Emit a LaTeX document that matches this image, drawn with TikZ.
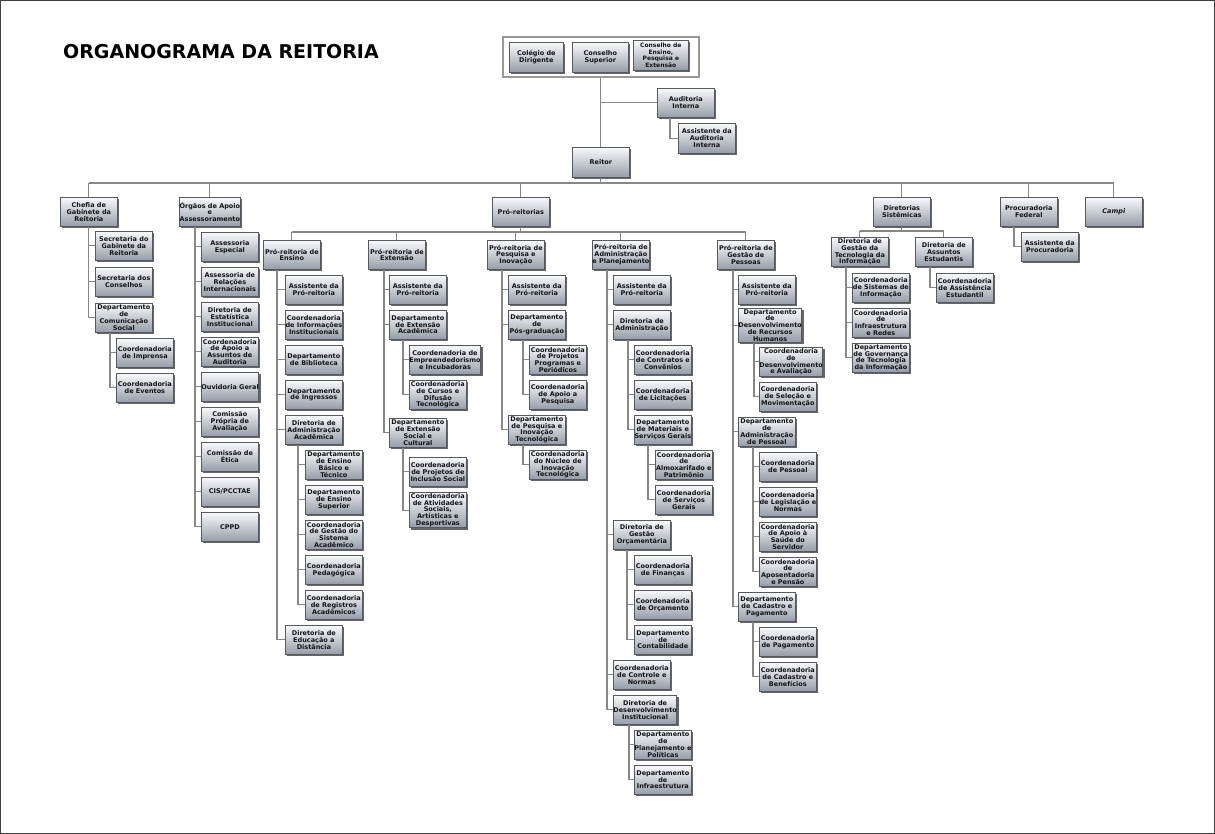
\documentclass[tikz,border=0pt]{standalone}
\usepackage{fontspec}
\setmainfont{DejaVu Sans}
\usetikzlibrary{shadows,calc}
\definecolor{boxtop}{RGB}{248,249,251}
\definecolor{boxbot}{RGB}{150,157,168}
\definecolor{boxline}{RGB}{85,89,97}
\definecolor{conline}{RGB}{135,135,135}
\definecolor{txt}{RGB}{20,20,24}
\newcommand\obox[5][]{\node[box,#1] (#2) at (#3,#4) {#5};}
\newcommand\conn[3]{\draw[ln] ([xshift=#2pt]#1.south west) |- (#3.west);}
\begin{document}
\begin{tikzpicture}[x=1pt,y=-1pt,
  box/.style={draw=boxline, line width=0.7pt, top color=boxtop, bottom color=boxbot,
    minimum width=57pt, minimum height=29pt, inner xsep=0pt, inner ysep=1pt,
    align=center, anchor=north west, text=txt,
    font=\bfseries\fontsize{6.5}{6.8}\selectfont,
    drop shadow={shadow xshift=2pt, shadow yshift=-2pt, fill=black!75, opacity=0.8}},
  ln/.style={draw=conline, line width=1.1pt}]
\useasboundingbox (0,0) rectangle (1215,834);
\fill[white] (0,0) rectangle (1215,834);
\draw[black!75, line width=0.8pt] (0.6,0.6) rectangle (1214.4,833.4);

% title
\node[anchor=base west, inner sep=0pt, font=\bfseries\fontsize{19}{21}\selectfont] (title) at (63,59) {ORGANOGRAMA DA REITORIA};

% top councils
\node[draw=black!40, line width=1.6pt, fill=white, minimum width=196pt, minimum height=40pt, anchor=north west, inner sep=0pt] (conselhos) at (502,36) {};
\obox[minimum width=54pt, minimum height=30pt]{colegio}{509}{42}{Colégio de\\Dirigente}
\obox[minimum width=56pt, minimum height=30pt]{consup}{572}{42}{Conselho\\Superior}
\obox[minimum width=55pt, minimum height=30pt, font=\bfseries\fontsize{6}{6.5}\selectfont]{consens}{633}{40}{Conselho de\\Ensino,\\Pesquisa e\\Extensão}
\obox{auditoria}{657}{88}{Auditoria\\Interna}
\obox[minimum height=30pt]{assaud}{678}{123}{Assistente da\\Auditoria\\Interna}
\obox[minimum height=30pt]{reitor}{572}{147}{Reitor}

\draw[ln] (conselhos.south) -- (conselhos.south |- reitor.north);
\draw[ln] (conselhos.south |- auditoria.west) -- (auditoria.west);
\conn{auditoria}{13}{assaud}

% level 1
\obox{chefia}{60}{197}{Chefia de\\Gabinete da\\Reitoria}
\obox[minimum width=61pt]{orgaos}{179}{197}{Órgãos de Apoio\\e\\Assessoramento}
\obox{proreit}{492}{197}{Pró-reitorias}
\obox{dirsis}{873}{197}{Diretorias\\Sistêmicas}
\obox{procur}{1000}{197}{Procuradoria\\Federal}
\obox{campi}{1085}{197}{\itshape Campi}

\coordinate (busY) at (0,183);
\draw[ln] (reitor.south) -- (reitor.south |- busY);
\draw[ln] (chefia.north |- busY) -- (campi.north |- busY);
\foreach \n in {chefia,orgaos,proreit,dirsis,procur,campi}
  {\draw[ln] (\n.north) -- (\n.north |- busY);}

% Chefia
\obox{secgab}{95}{231}{Secretaria do\\Gabinete da\\Reitoria}
\obox{seccons}{95}{267}{Secretaria dos\\Conselhos}
\obox{dcs}{95}{303}{Departamento\\de\\Comunicação\\Social}
\obox{imprensa}{116}{338}{Coordenadoria\\de Imprensa}
\obox{eventos}{116}{373}{Coordenadoria\\de Eventos}
\foreach \c in {secgab,seccons,dcs} {\draw[ln] (chefia.south) |- (\c.west);}
\conn{dcs}{15}{imprensa}
\conn{dcs}{15}{eventos}

% Orgaos
\obox{og1}{201}{232}{Assessoria\\Especial}
\obox{og2}{201}{267}{Assessoria de\\Relações\\Internacionais}
\obox{og3}{201}{302}{Diretoria de\\Estatística\\Institucional}
\obox{og4}{201}{337}{Coordenadoria\\de Apoio a\\Assuntos de\\Auditoria}
\obox{og5}{201}{372}{Ouvidoria Geral}
\obox{og6}{201}{407}{Comissão\\Própria de\\Avaliação}
\obox{og7}{201}{442}{Comissão de\\Ética}
\obox{og8}{201}{477}{CIS/PCCTAE}
\obox{og9}{201}{512}{CPPD}
\foreach \c in {og1,og2,og3,og4,og5,og6,og7,og8,og9} {\conn{orgaos}{16}{\c}}

% Pro-reitorias
\obox{pren}{263}{240}{Pró-reitoria de\\Ensino}
\obox{prext}{368}{240}{Pró-reitoria de\\Extensão}
\obox{prpi}{487}{240}{Pró-reitoria de\\Pesquisa e\\Inovação}
\obox{prap}{592}{240}{Pró-reitoria de\\Administração\\e Planejamento}
\obox{prgp}{717}{240}{Pró-reitoria de\\Gestão de\\Pessoas}
\coordinate (pbus) at (0,232);
\draw[ln] (proreit.south) -- (proreit.south |- pbus);
\draw[ln] (pren.north |- pbus) -- (prgp.north |- pbus);
\foreach \n in {pren,prext,prpi,prap,prgp}
  {\draw[ln] (\n.north) -- (\n.north |- pbus);}

% Ensino
\obox{en1}{285}{275}{Assistente da\\Pró-reitoria}
\obox{en2}{285}{310}{Coordenadoria\\de Informações\\Institucionais}
\obox{en3}{285}{345}{Departamento\\de Biblioteca}
\obox{en4}{285}{380}{Departamento\\de Ingressos}
\obox{en5}{285}{415}{Diretoria de\\Administração\\Acadêmica}
\obox{en51}{305}{450}{Departamento\\de Ensino\\Básico e\\Técnico}
\obox{en52}{305}{485}{Departamento\\de Ensino\\Superior}
\obox{en53}{305}{520}{Coordenadoria\\de Gestão do\\Sistema\\Acadêmico}
\obox{en54}{305}{555}{Coordenadoria\\Pedagógica}
\obox{en55}{305}{590}{Coordenadoria\\de Registros\\Acadêmicos}
\obox{en6}{285}{625}{Diretoria de\\Educação a\\Distância}
\foreach \c in {en1,en2,en3,en4,en5,en6} {\conn{pren}{14}{\c}}
\foreach \c in {en51,en52,en53,en54,en55} {\conn{en5}{13}{\c}}

% Extensao
\obox{ex1}{389}{275}{Assistente da\\Pró-reitoria}
\obox{ex2}{389}{310}{Departamento\\de Extensão\\Acadêmica}
\obox{ex21}{409}{345}{Coordenadoria de\\Empreendedorismo\\e Incubadoras}
\obox{ex22}{409}{380}{Coordenadoria\\de Cursos e\\Difusão\\Tecnológica}
\obox{ex3}{389}{418}{Departamento\\de Extensão\\Social e\\Cultural}
\obox{ex31}{409}{457}{Coordenadoria\\de Projetos de\\Inclusão Social}
\obox{ex32}{409}{492}{Coordenadoria\\de Atividades\\Sociais,\\Artísticas e\\Desportivas}
\foreach \c in {ex1,ex2,ex3} {\conn{prext}{16}{\c}}
\foreach \c in {ex21,ex22} {\conn{ex2}{14}{\c}}
\foreach \c in {ex31,ex32} {\conn{ex3}{14}{\c}}

% Pesquisa
\obox{pq1}{508}{275}{Assistente da\\Pró-reitoria}
\obox{pq2}{508}{310}{Departamento\\de\\Pós-graduação}
\obox{pq21}{529}{345}{Coordenadoria\\de Projetos\\Programas e\\Periódicos}
\obox{pq22}{529}{380}{Coordenadoria\\de Apoio a\\Pesquisa}
\obox{pq3}{508}{415}{Departamento\\de Pesquisa e\\Inovação\\Tecnológica}
\obox{pq31}{529}{450}{Coordenadoria\\do Núcleo de\\Inovação\\Tecnológica}
\foreach \c in {pq1,pq2,pq3} {\conn{prpi}{15}{\c}}
\foreach \c in {pq21,pq22} {\conn{pq2}{15}{\c}}
\conn{pq3}{15}{pq31}

% Administracao
\obox{ad1}{613}{275}{Assistente da\\Pró-reitoria}
\obox{ad2}{613}{310}{Diretoria de\\Administração}
\obox{ad21}{634}{345}{Coordenadoria\\de Contratos e\\Convênios}
\obox{ad22}{634}{380}{Coordenadoria\\de Licitações}
\obox{ad23}{634}{415}{Departamento\\de Materiais e\\Serviços Gerais}
\obox{ad231}{655}{450}{Coordenadoria\\de\\Almoxarifado e\\Patrimônio}
\obox{ad232}{655}{485}{Coordenadoria\\de Serviços\\Gerais}
\obox{ad3}{613}{520}{Diretoria de\\Gestão\\Orçamentária}
\obox{ad31}{634}{555}{Coordenadoria\\de Finanças}
\obox{ad32}{634}{590}{Coordenadoria\\de Orçamento}
\obox{ad33}{634}{625}{Departamento\\de\\Contabilidade}
\obox{ad4}{613}{660}{Coordenadoria\\de Controle e\\Normas}
\obox{ad5}{613}{695}{Diretoria de\\Desenvolvimento\\Institucional}
\obox{ad51}{634}{730}{Departamento\\de\\Planejamento e\\Políticas}
\obox{ad52}{634}{765}{Departamento\\de\\Infraestrutura}
\foreach \c in {ad1,ad2,ad3,ad4,ad5} {\conn{prap}{15}{\c}}
\foreach \c in {ad21,ad22,ad23} {\conn{ad2}{15}{\c}}
\foreach \c in {ad231,ad232} {\conn{ad23}{14}{\c}}
\foreach \c in {ad31,ad32,ad33} {\conn{ad3}{14}{\c}}
\foreach \c in {ad51,ad52} {\conn{ad5}{16}{\c}}

% Gestao de Pessoas
\obox{gp1}{738}{275}{Assistente da\\Pró-reitoria}
\obox{gp2}{738}{308}{Departamento\\de\\Desenvolvimento\\de Recursos\\Humanos}
\obox{gp21}{759}{347}{Coordenadoria\\de\\Desenvolvimento\\e Avaliação}
\obox{gp22}{759}{382}{Coordenadoria\\de Seleção e\\Movimentação}
\obox{gp3}{738}{417}{Departamento\\de\\Administração\\de Pessoal}
\obox{gp31}{759}{452}{Coordenadoria\\de Pessoal}
\obox{gp32}{759}{487}{Coordenadoria\\de Legislação e\\Normas}
\obox{gp33}{759}{522}{Coordenadoria\\de Apoio à\\Saúde do\\Servidor}
\obox{gp34}{759}{557}{Coordenadoria\\de\\Aposentadoria\\e Pensão}
\obox{gp4}{738}{592}{Departamento\\de Cadastro e\\Pagamento}
\obox{gp41}{759}{627}{Coordenadoria\\de Pagamento}
\obox{gp42}{759}{662}{Coordenadoria\\de Cadastro e\\Benefícios}
\foreach \c in {gp1,gp2,gp3,gp4} {\conn{prgp}{16}{\c}}
\foreach \c in {gp21,gp22} {\conn{gp2}{16}{\c}}
\foreach \c in {gp31,gp32,gp33,gp34} {\conn{gp3}{15}{\c}}
\foreach \c in {gp41,gp42} {\conn{gp4}{15}{\c}}

% Diretorias Sistemicas
\obox{dgti}{831}{237}{Diretoria de\\Gestão da\\Tecnologia da\\Informação}
\obox{dae}{915}{237}{Diretoria de\\Assuntos\\Estudantis}
\obox{dt1}{852}{273}{Coordenadoria\\de Sistemas de\\Informação}
\obox{dt2}{852}{308}{Coordenadoria\\de\\Infraestrutura\\e Redes}
\obox{dt3}{852}{343}{Departamento\\de Governança\\de Tecnologia\\da Informação}
\obox{dae1}{936}{273}{Coordenadoria\\de Assistência\\Estudantil}
\coordinate (dbus) at (0,231);
\draw[ln] (dirsis.south) -- (dirsis.south |- dbus);
\draw[ln] (dgti.north |- dbus) -- (dae.north |- dbus);
\foreach \n in {dgti,dae} {\draw[ln] (\n.north) -- (\n.north |- dbus);}
\foreach \c in {dt1,dt2,dt3} {\conn{dgti}{15}{\c}}
\conn{dae}{15}{dae1}

% Procuradoria
\obox{proc1}{1021}{232}{Assistente da\\Procuradoria}
\conn{procur}{14}{proc1}
\end{tikzpicture}
\end{document}
